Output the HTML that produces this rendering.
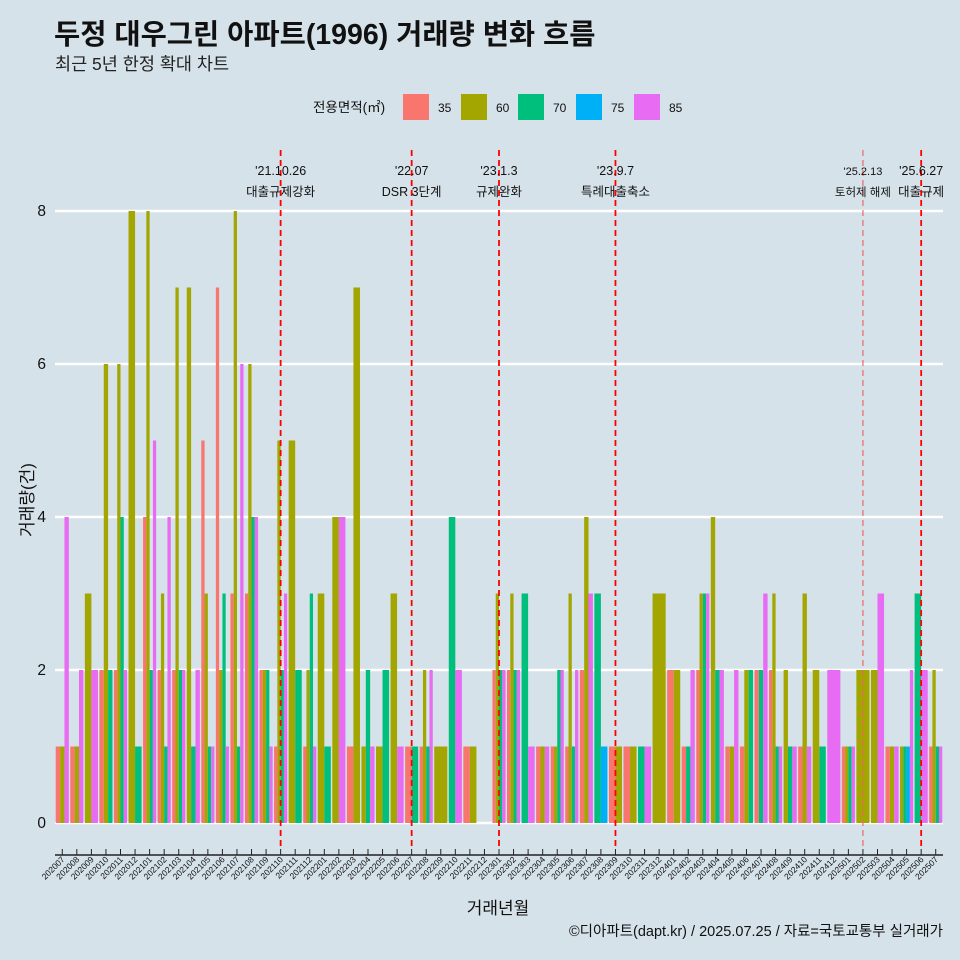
<!DOCTYPE html>
<html><head><meta charset="utf-8"><style>
body{margin:0;background:#d5e1e8;}
svg{display:block;font-family:"Liberation Sans","Noto Sans CJK KR",sans-serif;}
</style></head><body>
<svg id="c" width="960" height="960" viewBox="0 0 960 960">
<rect width="960" height="960" fill="#d6e2e9"/>
<text x="54" y="44" font-size="28.5" font-weight="bold" fill="#111">두정 대우그린 아파트(1996) 거래량 변화 흐름</text>
<text x="55" y="70" font-size="17.5" fill="#222">최근 5년 한정 확대 차트</text>
<g id="legend"><text x="313" y="112" font-size="13.5" fill="#111">전용면적(㎡)</text></g>
<g id="grid"></g><g id="bars"></g><g id="events"></g><g id="xaxis"></g>
<text x="498" y="914" font-size="17" text-anchor="middle" fill="#111">거래년월</text>
<text transform="translate(33,500) rotate(-90)" font-size="17" text-anchor="middle" fill="#111">거래량(건)</text>
<text x="943" y="936" font-size="14.5" text-anchor="end" fill="#111">©디아파트(dapt.kr) / 2025.07.25 / 자료=국토교통부 실거래가</text>
</svg>
<script>
const months=["202007","202008","202009","202010","202011","202012","202101","202102","202103","202104","202105","202106","202107","202108","202109","202110","202111","202112","202201","202202","202203","202204","202205","202206","202207","202208","202209","202210","202211","202212","202301","202302","202303","202304","202305","202306","202307","202308","202309","202310","202311","202312","202401","202402","202403","202404","202405","202406","202407","202408","202409","202410","202411","202412","202501","202502","202503","202504","202505","202506","202507"];
const sizes=["35","60","70","75","85"];
const sizeColors=["#F8766D","#A3A500","#00BF7D","#00B0F6","#E76BF3"];
// values per month: [35,60,70,75,85], 0 = no trade
const s35=[1,1,0,2,2,0,4,2,2,0,5,7,3,3,2,1,0,1,0,0,1,0,0,0,1,1,0,0,1,0,2,2,0,1,1,1,2,0,1,1,0,0,2,1,2,0,1,1,2,2,0,1,0,0,1,0,0,1,0,0,1];
const s60=[1,1,3,6,6,8,8,3,7,7,3,2,8,6,2,5,5,2,3,4,7,1,1,3,0,2,1,0,1,0,3,3,0,1,1,3,4,0,1,1,0,3,2,0,3,4,1,2,0,3,2,3,2,0,1,2,2,1,1,0,2];
const s70=[0,0,0,2,4,1,2,1,2,1,1,3,1,4,2,2,2,3,1,0,0,2,2,0,1,1,0,4,0,0,2,2,3,0,2,1,0,3,0,0,1,0,0,1,3,2,0,2,2,1,1,0,1,0,1,0,0,0,1,3,1];
const s75=[0,0,0,0,0,0,0,0,0,0,0,0,0,0,0,0,0,0,0,0,0,0,0,0,0,0,0,0,0,0,0,0,0,0,0,0,0,1,0,0,0,0,0,0,0,0,0,0,0,0,0,0,0,0,0,0,0,0,1,0,0];
const s85=[4,2,2,0,2,0,5,4,2,2,1,1,6,4,1,3,0,1,0,4,0,1,0,1,0,2,0,2,0,0,2,2,1,1,2,2,3,0,0,0,1,0,0,2,3,2,2,0,3,1,1,1,0,2,1,0,3,1,2,2,1];
const yTicks=[0,2,4,6,8];
const eventMonths=["202110","202207","202301","202309","202502","202506"];
const eventDates=["'21.10.26","'22.07","'23.1.3","'23.9.7","'25.2.13","'25.6.27"];
const eventNames=["대출규제강화","DSR 3단계","규제완화","특례대출축소","토허제 해제","대출규제"];

const NS="http://www.w3.org/2000/svg";
const X0=55,X1=943,Y0=823,YTOP=211;
const step=(X1-X0)/months.length;
const xc=i=>X0+step*(i+0.5);
const y=v=>Y0-(Y0-YTOP)*v/8;
function mk(tag,attrs,parent){const e=document.createElementNS(NS,tag);for(const k in attrs)e.setAttribute(k,attrs[k]);parent.appendChild(e);return e;}
const grid=document.getElementById('grid'),bars=document.getElementById('bars'),ev=document.getElementById('events'),xa=document.getElementById('xaxis'),lg=document.getElementById('legend');
yTicks.forEach(t=>{
 const l=mk('line',{x1:X0,x2:X1,y1:y(t),y2:y(t),stroke:'#fff','stroke-width':2.5},grid);
 
 
 const tx=mk('text',{x:46,y:y(t)+5,'font-size':15.5,'text-anchor':'end',fill:'#111'},grid);tx.textContent=t;
 
 
});
const series=[s35,s60,s70,s75,s85];
months.forEach((m,i)=>{
 const present=[];series.forEach((s,k)=>{if(s[i]>0)present.push(k);});
 const bw=step*0.9, w=bw/present.length;
 present.forEach((k,j)=>{
  const v=series[k][i];
  const r=mk('rect',{x:xc(i)-bw/2+j*w,y:y(v),width:w,height:Y0-y(v),fill:sizeColors[k]},bars);
  
  
 });
 const tk=mk('line',{x1:xc(i),x2:xc(i),y1:849,y2:855,stroke:'#222','stroke-width':1},xa);
 
 
 const tl=mk('text',{transform:`translate(${xc(i)+3},${860}) rotate(-45)`,'font-size':8.5,'text-anchor':'end',fill:'#111'},xa);tl.textContent=m;
 
 
});
const ax=mk('line',{x1:X0,x2:X1,y1:855,y2:855,stroke:'#222','stroke-width':1.5},xa);


eventMonths.forEach((m,k)=>{
 const i=months.indexOf(m),x=xc(i);
 const light=m==="202502";
 const l=mk('line',{x1:x,x2:x,y1:150,y2:848,stroke:light?'#e66':'#f00','stroke-width':light?1.2:1.8,'stroke-dasharray':'6,4'},ev);
 
 
 const t1=mk('text',{x:x,y:175,'font-size':light?11:12.5,'text-anchor':'middle',fill:'#111'},ev);t1.textContent=eventDates[k];
 
 
 const t2=mk('text',{x:x,y:196,'font-size':light?11.5:12.5,'text-anchor':'middle',fill:'#111'},ev);t2.textContent=eventNames[k];
 
 
});
const lx=[403,461,518,576,634];
sizes.forEach((s,k)=>{
 const r=mk('rect',{x:lx[k],y:94,width:26,height:26,fill:sizeColors[k]},lg);
 
 
 const t=mk('text',{x:lx[k]+35,y:112,'font-size':12,fill:'#111'},lg);t.textContent=s;
 
 
});
</script>
</body></html>
